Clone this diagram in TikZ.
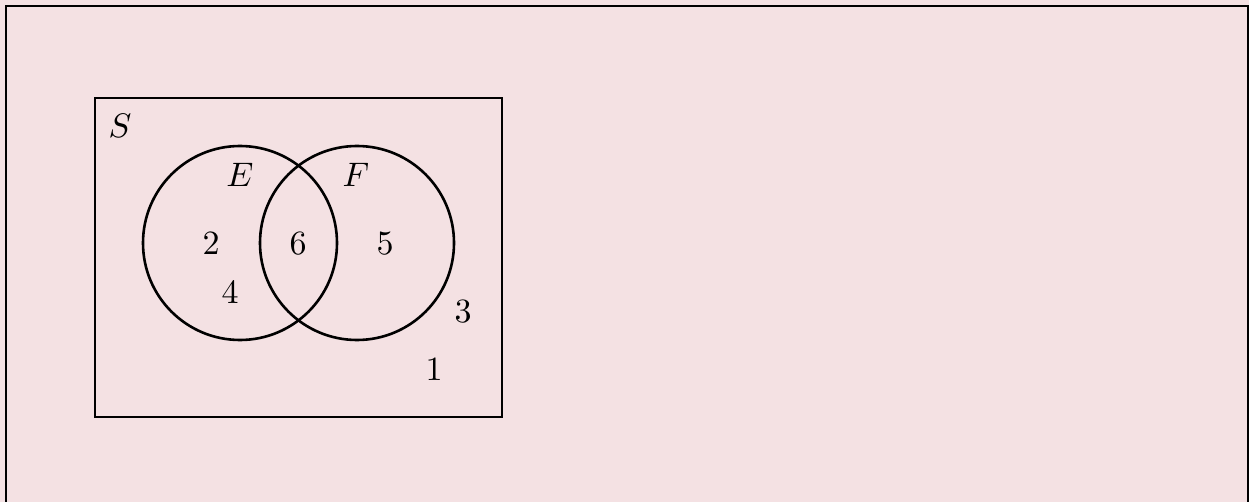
\documentclass[tikz,border=0pt]{standalone}
\definecolor{bgpink}{RGB}{244,225,227}
\newcommand{\biglbl}[1]{\scalebox{3.4}{$#1$}}
\begin{document}
\begin{tikzpicture}[x=1pt,y=-1pt,
  setline/.style={line width=2.6pt},
  lbl/.style={inner sep=0pt}]
\fill[bgpink] (0,0) rectangle (1249,502);
\useasboundingbox (0,0) rectangle (1249,502);
\draw[line width=1.2pt] (6,502) -- (6,6) -- (1248,6) -- (1248,502);
\node[setline,draw,minimum width=407pt,minimum height=319pt,inner sep=0pt] (S) at (298.5,257.5) {};
\node[setline,draw,circle,minimum size=194pt,inner sep=0pt] (E) at (240,243) {};
\node[setline,draw,circle,minimum size=194pt,inner sep=0pt] (F) at (357,243) {};
\node[lbl] (lS) at (120,126) {\biglbl{S}};
\node[lbl] (lE) at (240,175) {\biglbl{E}};
\node[lbl] (lF) at (356,175) {\biglbl{F}};
\node[lbl] (n2) at (211,244) {\biglbl{2}};
\node[lbl] (n6) at (298,244) {\biglbl{6}};
\node[lbl] (n5) at (385,244) {\biglbl{5}};
\node[lbl] (n4) at (230,293) {\biglbl{4}};
\node[lbl] (n3) at (463,312) {\biglbl{3}};
\node[lbl] (n1) at (434,370) {\biglbl{1}};
\end{tikzpicture}
\end{document}
